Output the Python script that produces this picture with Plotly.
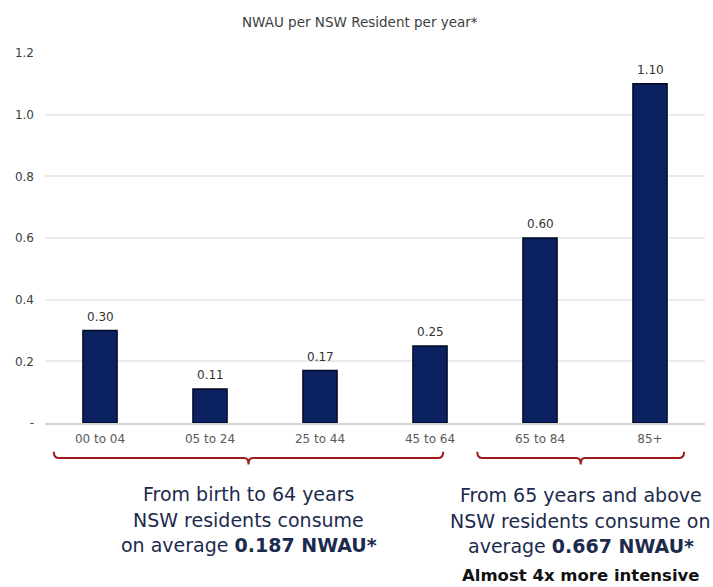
import plotly.graph_objects as go

# NWAU per NSW resident per year, by age group
age_groups = ["00 to 04", "05 to 24", "25 to 44", "45 to 64", "65 to 84", "85+"]
nwau = [0.30, 0.11, 0.17, 0.25, 0.60, 1.10]
value_labels = ["0.30", "0.11", "0.17", "0.25", "0.60", "1.10"]

y_ticks = [0, 0.2, 0.4, 0.6, 0.8, 1.0, 1.2]
y_tick_text = ["-", "0.2", "0.4", "0.6", "0.8", "1.0", "1.2"]

# Bracket spans (in category-axis units) and their captions
young_span = (-0.42, 3.12)
old_span = (3.43, 5.31)
young_lines = ["From birth to 64 years", "NSW residents consume",
               "on average <b>0.187 NWAU*</b>"]
old_lines = ["From 65 years and above", "NSW residents consume on",
             "average <b>0.667 NWAU*</b>"]
old_note = "<b>Almost 4x more intensive</b>"

NAVY = "#0b2161"
RED = "#9b1c1c"
TEXT_BLUE = "#1c2b4d"
chart_font = "DejaVu Sans"
caption_font = "DejaVu Sans"

fig = go.Figure(go.Bar(
    x=age_groups, y=nwau,
    width=0.31,
    marker=dict(color=NAVY, line=dict(color="#020a24", width=1.5)),
    hoverinfo="x+y",
))


def brace(x0, x1, y_line=-0.0946, y_end=-0.078, y_tip=-0.112):
    xm = (x0 + x1) / 2
    r = 0.04
    return dict(
        type="path", xref="x", yref="paper",
        path=(f"M {x0} {y_end} Q {x0} {y_line} {x0 + r} {y_line} "
              f"L {xm - r} {y_line} Q {xm} {y_line} {xm} {y_tip} "
              f"Q {xm} {y_line} {xm + r} {y_line} "
              f"L {x1 - r} {y_line} Q {x1} {y_line} {x1} {y_end}"),
        line=dict(color=RED, width=2),
    )


shapes = [brace(*young_span), brace(*old_span)]

annotations = [dict(
    text="NWAU per NSW Resident per year*", xref="paper", yref="paper",
    x=0.478, y=1.084, xanchor="center", yanchor="middle", showarrow=False,
    font=dict(size=13.5, color="#404040", family=chart_font),
)]

# value labels above each bar
for cat, val, lab in zip(age_groups, nwau, value_labels):
    annotations.append(dict(
        text=lab, xref="x", yref="y", x=cat, y=val,
        xanchor="center", yanchor="middle", yshift=14, showarrow=False,
        font=dict(size=12, color="#333333", family=chart_font),
    ))

line_y = [-0.192, -0.262, -0.330]
for span, lines, dy in ((young_span, young_lines, 0.0),
                        (old_span, old_lines, -0.003)):
    xm = (span[0] + span[1]) / 2
    for txt, yy in zip(lines, line_y):
        annotations.append(dict(
            text=txt, xref="x", yref="paper", x=xm, y=yy + dy,
            xanchor="center", yanchor="middle", showarrow=False,
            font=dict(size=19, color=TEXT_BLUE, family=caption_font),
        ))
annotations.append(dict(
    text=old_note, xref="x", yref="paper", x=(old_span[0] + old_span[1]) / 2,
    y=-0.412, xanchor="center", yanchor="middle", showarrow=False,
    font=dict(size=16.5, color="#111111", family=caption_font),
))

fig.update_layout(
    width=713, height=587,
    margin=dict(l=45, r=8, t=53, b=164),
    plot_bgcolor="white", paper_bgcolor="white",
    showlegend=False,
    shapes=shapes, annotations=annotations,
    font=dict(family=chart_font, color="#404040"),
)
fig.update_xaxes(
    range=[-0.5, len(age_groups) - 0.5], autorange=False,
    showgrid=False, showline=True, linecolor="#d4d4d4", linewidth=1.5,
    ticks="", tickfont=dict(size=12, color="#595959", family=chart_font),
    ticklabelstandoff=4,
)
fig.update_yaxes(
    range=[0, 1.2], tickvals=y_ticks, ticktext=y_tick_text,
    showgrid=True, gridcolor="#ebebeb", gridwidth=1.5,
    zeroline=False, showline=False, ticks="",
    tickfont=dict(size=12, color="#404040", family=chart_font),
    ticklabelstandoff=10,
)

fig.write_html("out.html")
